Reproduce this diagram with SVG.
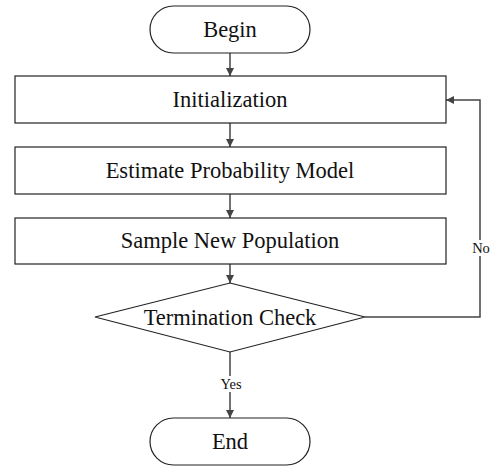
<svg xmlns="http://www.w3.org/2000/svg" width="493" height="468" viewBox="0 0 493 468">
<style>
.n{fill:#fff;stroke:#222;stroke-width:1.2}
.t{font-family:'Liberation Serif','Times New Roman','DejaVu Serif',serif;font-size:22.5px;fill:#111;text-anchor:middle}
.l{font-family:'Liberation Serif','Times New Roman','DejaVu Serif',serif;font-size:14.5px;fill:#111;text-anchor:middle}
.c{fill:none;stroke:#444;stroke-width:1.5}
</style>
<defs>
<marker id="a" viewBox="0 0 10 10" refX="10" refY="5" markerWidth="8" markerHeight="8" markerUnits="userSpaceOnUse" orient="auto"><path d="M0,0L10,5L0,10z" fill="#444"/></marker>
</defs>
<rect width="493" height="468" fill="#fff"/>
<g id="connectors">
<line class="c" x1="230" y1="53" x2="230" y2="76" marker-end="url(#a)"/>
<line class="c" x1="230" y1="123" x2="230" y2="147" marker-end="url(#a)"/>
<line class="c" x1="230" y1="194" x2="230" y2="218" marker-end="url(#a)"/>
<line class="c" x1="230" y1="264" x2="230" y2="283" marker-end="url(#a)"/>
<line class="c" x1="230" y1="352" x2="230" y2="418" marker-end="url(#a)"/>
<polyline class="c" points="365,317 480,317 480,100 446,100" marker-end="url(#a)"/>
<rect x="218" y="376" width="26" height="16" fill="#fff"/>
<text class="l" x="231" y="389">Yes</text>
<rect x="470" y="240" width="22" height="16" fill="#fff"/>
<text class="l" x="481" y="253">No</text>
</g>
<g id="begin"><rect class="n" x="150" y="6" width="160" height="47" rx="23.5"/><text class="t" x="230" y="37">Begin</text></g>
<g id="init"><rect class="n" x="15" y="76" width="431" height="47"/><text class="t" x="230" y="107">Initialization</text></g>
<g id="estimate"><rect class="n" x="15" y="147" width="431" height="47"/><text class="t" x="230" y="178">Estimate Probability Model</text></g>
<g id="sample"><rect class="n" x="15" y="218" width="431" height="46"/><text class="t" x="230" y="248">Sample New Population</text></g>
<g id="check"><polygon class="n" points="230,283 365,317 230,352 95,317"/><text class="t" x="230" y="325">Termination Check</text></g>
<g id="end"><rect class="n" x="150" y="418" width="160" height="47" rx="23.5"/><text class="t" x="230" y="449">End</text></g>
</svg>
